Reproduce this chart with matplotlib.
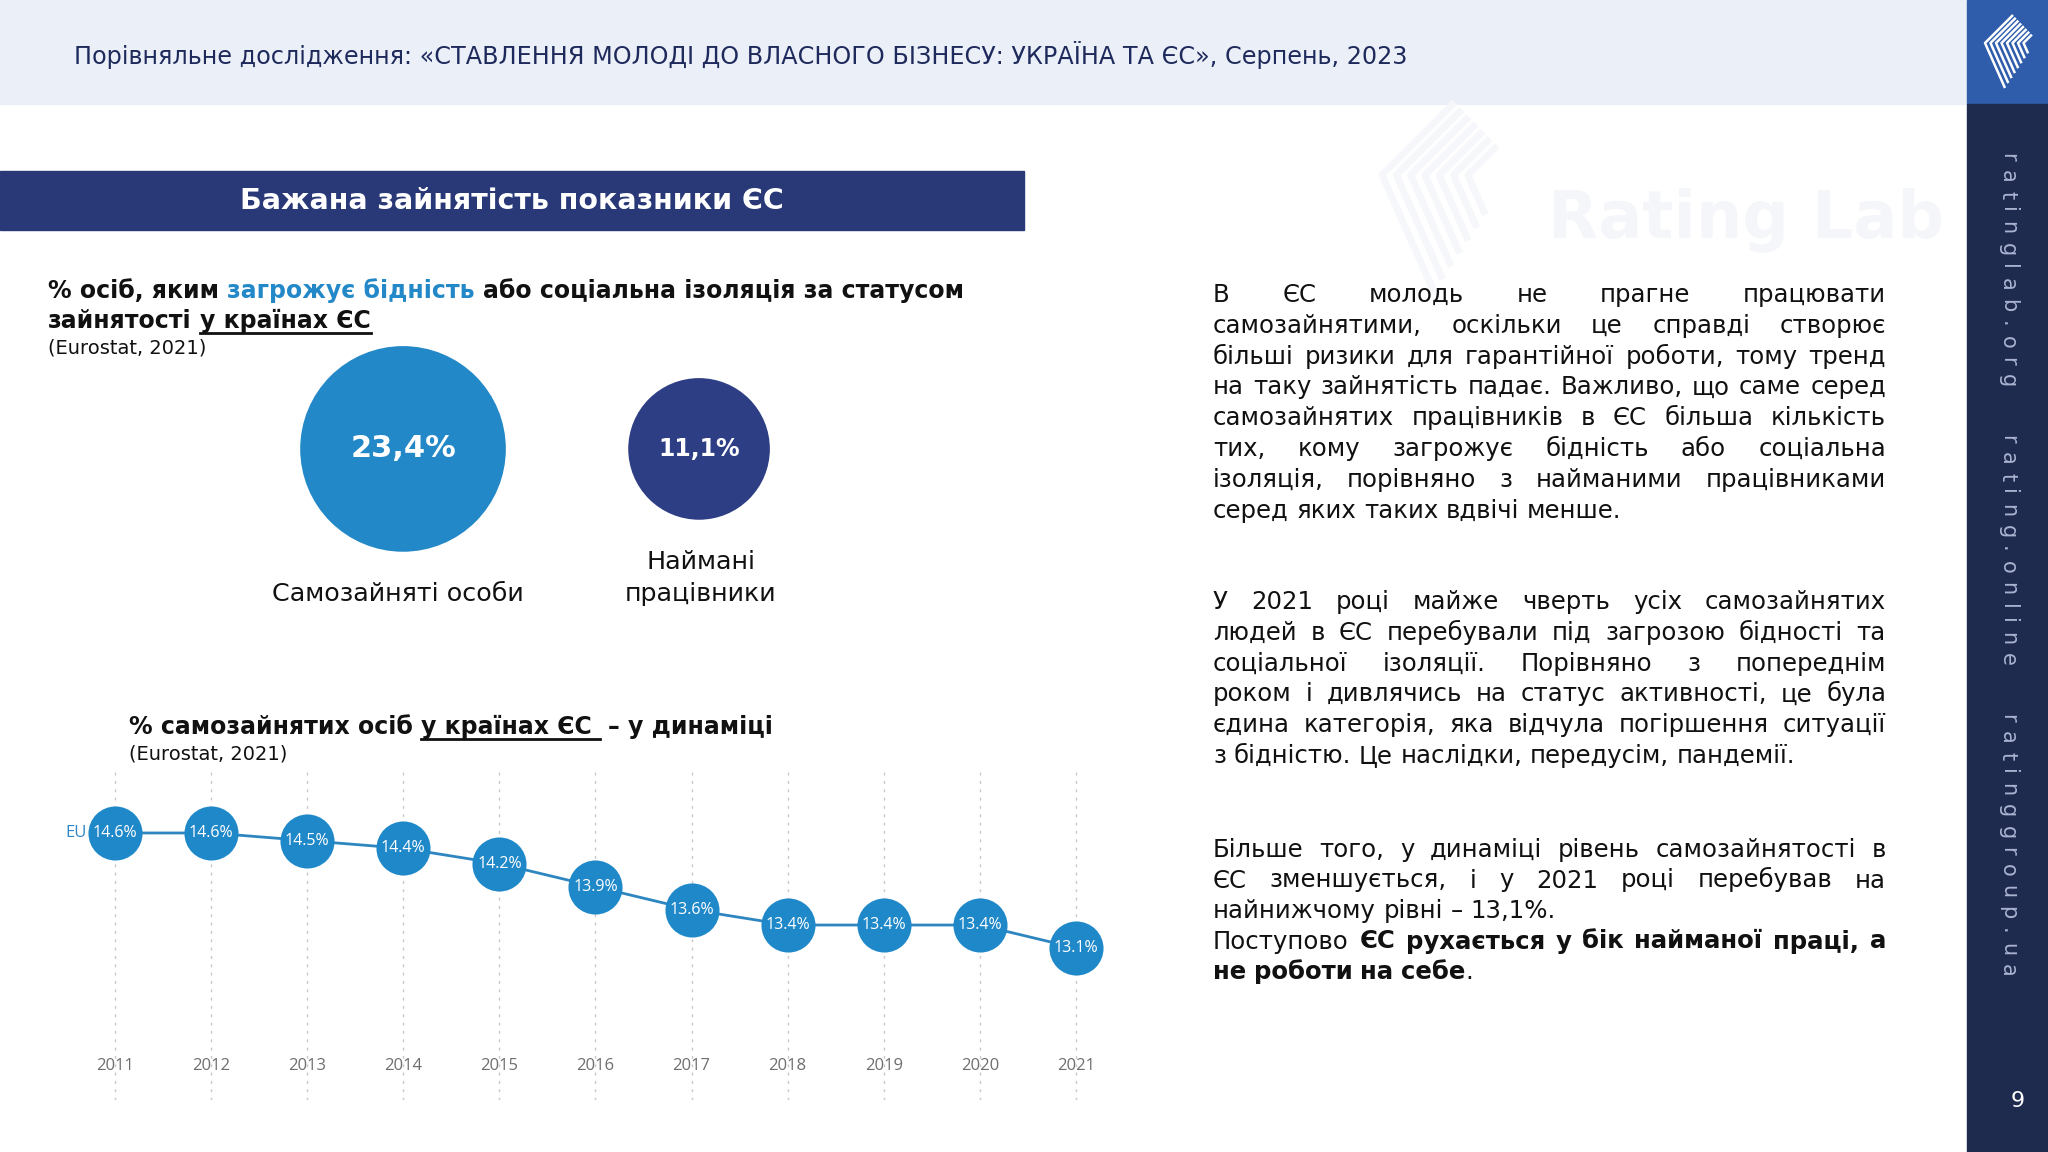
import matplotlib
matplotlib.use('Agg')
import matplotlib.pyplot as plt
from matplotlib.patches import Rectangle

plt.rcParams['font.family'] = ['DejaVu Sans']

# ---- дані ----
years = [2011, 2012, 2013, 2014, 2015, 2016, 2017, 2018, 2019, 2020, 2021]
self_employed = [14.6, 14.6, 14.5, 14.4, 14.2, 13.9, 13.6, 13.4, 13.4, 13.4, 13.1]

risk_groups = ['Самозайняті особи', 'Наймані\nпрацівники']
risk_values = [23.4, 11.1]
risk_labels = ['23,4%', '11,1%']

header_title = 'Порівняльне дослідження: «СТАВЛЕННЯ МОЛОДІ ДО ВЛАСНОГО БІЗНЕСУ: УКРАЇНА ТА ЄС», Серпень, 2023'
banner_title = 'Бажана зайнятість показники ЄС'
sidebar_text = 'ratinglab.org   rating.online   ratinggroup.ua'

# текст праворуч, рядки як в оригіналі; **...** - жирний
para1 = ['В ЄС молодь не прагне працювати',
         'самозайнятими, оскільки це справді створює',
         'більші ризики для гарантійної роботи, тому тренд',
         'на таку зайнятість падає. Важливо, що саме серед',
         'самозайнятих працівників в ЄС більша кількість',
         'тих, кому загрожує бідність або соціальна',
         'ізоляція, порівняно з найманими працівниками',
         'серед яких таких вдвічі менше.']
para2 = ['У 2021 році майже чверть усіх самозайнятих',
         'людей в ЄС перебували під загрозою бідності та',
         'соціальної ізоляції. Порівняно з попереднім',
         'роком і дивлячись на статус активності, це була',
         'єдина категорія, яка відчула погіршення ситуації',
         'з бідністю. Це наслідки, передусім, пандемії.']
para3 = ['Більше того, у динаміці рівень самозайнятості в',
         'ЄС зменшується, і у 2021 році перебував на',
         'найнижчому рівні – 13,1%.',
         'Поступово **ЄС рухається у бік найманої праці, а**',
         '**не роботи на себе**.']

# ---- кольори ----
BLUE = '#2388C8'
NAVY = '#2D3E85'
BANNER = '#293877'
TXT = '#111111'

W, H = 2048, 1152
fig = plt.figure(figsize=(20.48, 11.52), dpi=100)
bg = fig.add_axes([0, 0, 1, 1])
bg.set_xlim(0, W)
bg.set_ylim(H, 0)
bg.axis('off')
r = fig.canvas.get_renderer()


def width_of(t):
    return t.get_window_extent(r).width


def space_width(size, weight='normal'):
    a = bg.text(0, 0, 'a a', fontsize=size, fontweight=weight)
    b = bg.text(0, 0, 'aa', fontsize=size, fontweight=weight)
    w = width_of(a) - width_of(b)
    a.remove()
    b.remove()
    return w


def parse_line(line):
    # слова -> список фрагментів (текст, жирний?)
    words = []
    bold = False
    for w in line.split(' '):
        frags = []
        parts = w.split('**')
        for i, p in enumerate(parts):
            if i > 0:
                bold = not bold
            if p:
                frags.append((p, bold))
        words.append(frags)
    return words


def draw_paragraph(lines, x0, x1, y0, step, size, left_lines=()):
    sp = space_width(size)
    for k, line in enumerate(lines):
        y = y0 + k * step
        items = []
        for frags in parse_line(line):
            arts = []
            tw = 0
            for text, b in frags:
                t = bg.text(0, y, text, fontsize=size, color=TXT,
                            fontweight='bold' if b else 'normal', va='baseline')
                w = width_of(t)
                arts.append((t, w))
                tw += w
            items.append((arts, tw))
        left = k == len(lines) - 1 or k in left_lines
        gap = sp
        if not left and len(items) > 1:
            gap = (x1 - x0 - sum(i[1] for i in items)) / (len(items) - 1)
        x = x0
        for arts, tw in items:
            for t, w in arts:
                t.set_x(x)
                x += w
            x += gap


def draw_runs(x, y, runs, size):
    # runs: (текст, колір, вага, підкреслення, пробіл перед)
    sp = space_width(size, 'bold')
    for text, color, weight, ul, pre in runs:
        if pre:
            x += sp
        t = bg.text(x, y, text, fontsize=size, color=color, fontweight=weight, va='baseline')
        w = width_of(t)
        if ul:
            bg.plot([x, x + w], [y + 5, y + 5], color=color, lw=2)
        x += w
    return x


def chevrons(x0, y0, scale, color, lw, n, z):
    # смугастий логотип
    for i in range(n):
        ax_ = x0 + 5.5 * i * scale
        up = 1 - i * 0.1
        lo = 1 - i * 0.11
        bg.plot([ax_ + 28 * up * scale, ax_, ax_ + 20 * lo * scale],
                [y0 - 28 * up * scale, y0, y0 + 45 * lo * scale],
                color=color, lw=lw, zorder=z, solid_capstyle='butt')


# ---- фон і плашки ----
bg.add_patch(Rectangle((0, 0), 1967, 104, color='#EBF0F8', zorder=0))
bg.add_patch(Rectangle((0, 171), 1024, 59, color=BANNER, zorder=0))

# водяний знак
bg.text(1548, 237, 'Rating Lab', fontsize=47, fontweight='bold', color='#F5F6F9',
        va='baseline', zorder=0.5)
chevrons(1382, 175, 2.6, '#F6F7FA', 5, 7, 0.5)

# бічна панель
bg.add_patch(Rectangle((1967, 0), 81, 104, color='#2F5DAB', zorder=1))
bg.add_patch(Rectangle((1967, 104), 81, H - 104, color='#1F2A4F', zorder=1))
chevrons(1985, 43, 1.0, 'white', 1.8, 8, 2)

t = bg.text(74, 64, header_title, fontsize=15, color='#1F2A5C', va='baseline')
t.set_fontsize(15 * 1333 / width_of(t))

t = bg.text(512, 209, banner_title, fontsize=20, color='white', fontweight='bold',
            va='baseline', ha='center')
t.set_fontsize(20 * 544 / width_of(t))

# вертикальний текст з розрідженням літер
side_arts = []
for ch in sidebar_text:
    if ch == ' ':
        side_arts.append((None, 5))
        continue
    t = bg.text(2008, 0, ch, rotation=-90, ha='center', va='top', fontsize=15,
                color='#A9B2CF', zorder=3)
    side_arts.append((t, t.get_window_extent(r).height))
n_chars = sum(1 for a, _ in side_arts if a is not None)
track = (977 - 153 - sum(h for _, h in side_arts)) / (len(side_arts) - 1)
y = 153
for t, h in side_arts:
    if t is not None:
        t.set_y(y)
    y += h + track
bg.text(2018, 1101, '9', fontsize=16, color='white', ha='center', va='center', zorder=3)

# ---- підзаголовки ----
draw_runs(48, 298, [('% осіб, яким', TXT, 'bold', False, False),
                    ('загрожує бідність', BLUE, 'bold', False, True),
                    ('або соціальна ізоляція за статусом', TXT, 'bold', False, True)], 17)
draw_runs(48, 328, [('зайнятості', TXT, 'bold', False, False),
                    ('у країнах ЄС', TXT, 'bold', True, True)], 17)
bg.text(48, 353, '(Eurostat, 2021)', fontsize=14, color=TXT, va='baseline')

draw_runs(129, 734, [('% самозайнятих осіб', TXT, 'bold', False, False),
                     ('у країнах ЄС ', TXT, 'bold', True, True),
                     ('– у динаміці', TXT, 'bold', False, True)], 17)
bg.text(129, 760, '(Eurostat, 2021)', fontsize=14, color=TXT, va='baseline')

# ---- бульбашки ----
bx = fig.add_axes([300 / W, 1 - 620 / H, 500 / W, 280 / H])
bx.set_facecolor('none')
bx.set_xlim(-0.348, 1.341)
bx.set_ylim(0, 1)
bx.axis('off')
bx.scatter([0, 1], [0.611, 0.611], s=[v * 937 for v in risk_values],
           color=[BLUE, NAVY], linewidths=0)
for i, (lab, v) in enumerate(zip(risk_labels, risk_values)):
    bx.text(i, 0.611, lab, color='white', fontweight='bold',
            fontsize=22 if i == 0 else 17, ha='center', va='center')
label_x = [398, 701]
for lx, name in zip(label_x, risk_groups):
    rows = name.split('\n')
    for j, row in enumerate(reversed(rows)):
        bg.text(lx, 601 - j * 32, row, fontsize=18.3, color=TXT, ha='center', va='baseline')

# ---- лінійний графік ----
ax = fig.add_axes([60 / W, 1 - 1100 / H, 1050 / W, 332 / H])
ax.set_facecolor('none')
ax.set_xlim(2010.428, 2021.354)
ax.set_ylim(11.119, 15.447)
for s in ax.spines.values():
    s.set_visible(False)
ax.set_xticks(years)
ax.set_yticks([])
ax.tick_params(length=0, labelbottom=False)
ax.grid(axis='x', color='#C8C8C8', linestyle=(0, (2, 4)), lw=1)
ax.plot(years, self_employed, color='#2E86C1', lw=2, zorder=2)
ax.scatter(years, self_employed, s=1515, color='#1F88C9', linewidths=0, zorder=3)
for x, v in zip(years, self_employed):
    ax.text(x, v, f'{v:.1f}%', color='white', ha='center', va='center',
            fontsize=11.5, family='Open Sans', zorder=4)
    ax.text(x, 0.102, str(x), transform=ax.get_xaxis_transform(), color='#6E6E6E',
            ha='center', va='center', fontsize=12, family='Open Sans')
ax.annotate('EU', (years[0], self_employed[0]), xytext=(-20, 0), textcoords='offset points',
            ha='right', va='center', color='#2D87C8', fontsize=12, family='Open Sans')

# ---- текст праворуч ----
draw_paragraph(para1, 1213, 1886, 302, 30.8, 17.6)
draw_paragraph(para2, 1213, 1886, 609, 30.8, 17.6)
draw_paragraph(para3, 1213, 1886, 857, 30.5, 17.6, left_lines=(2,))

fig.savefig('out.png', dpi=100)
